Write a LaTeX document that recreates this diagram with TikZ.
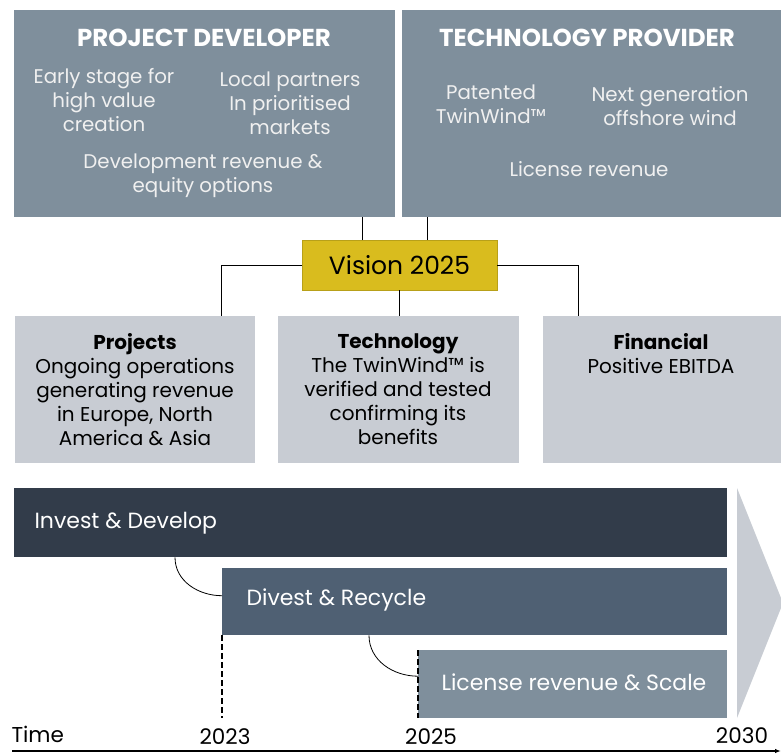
\documentclass[tikz,border=0pt]{standalone}
\usepackage{fontspec}
\setmainfont{Poppins}
\usetikzlibrary{arrows.meta}
\usetikzlibrary{positioning}

\definecolor{slate}{HTML}{7F8F9C}
\definecolor{pale}{HTML}{C8CCD3}
\definecolor{navy}{HTML}{323C4A}
\definecolor{steel}{HTML}{4F6073}
\definecolor{gold}{HTML}{D9BC1E}

\tikzset{
  panel/.style={anchor=north west, inner sep=0pt},
  head/.style={text=white, font=\bfseries\fontsize{24.5}{28}\selectfont},
  body/.style={text=white!94!black, align=center, font=\fontsize{19.8}{24}\selectfont},
  goal/.style={align=center, anchor=north, font=\fontsize{20}{24}\selectfont},
  phase/.style={text=white, anchor=west, font=\fontsize{22}{26}\selectfont},
  year/.style={font=\fontsize{21.5}{26}\selectfont},
  link/.style={thick, black},
  marker/.style={line width=1.6pt, black, dash pattern=on 6pt off 3pt},
}

\begin{document}
\begin{tikzpicture}[x=1pt,y=-1pt]

        \useasboundingbox (0,0) rectangle (781,753);

        % business areas
        \node[panel, fill=slate, minimum width=381pt, minimum height=207pt] (developer) at (14,10) {};
        \node[panel, fill=slate, minimum width=379pt, minimum height=207pt] (provider) at (402,10) {};

        \node[head] (developertitle) at (204,38) {PROJECT DEVELOPER};
        \node[body] (earlystage) at (104,100) {Early stage for\\high value\\creation};
        \node[body] (partners) at (290,103) {Local partners\\In prioritised\\markets};
        \node[body] (devrevenue) at (203,176) {Development revenue \&\\equity options};

        \node[head] (providertitle) at (587,38) {TECHNOLOGY PROVIDER};
        \node[body] (patented) at (491,104) {Patented\\TwinWind™};
        \node[body] (nextgen) at (670,106) {Next generation\\offshore wind};
        \node[body] (licrevenue) at (589,169) {License revenue};

        % vision and its three goals
        \node[panel, fill=gold, draw=gold!85!black, minimum width=195pt, minimum height=50pt] (vision) at (302,240) {};
        \node[font=\fontsize{25}{28}\selectfont] (visiontext) at (399.5,265) {Vision 2025};

        \node[panel, fill=pale, minimum width=240pt, minimum height=147pt] (projects) at (15,316) {};
        \node[panel, fill=pale, minimum width=241pt, minimum height=147pt] (technology) at (278,316) {};
        \node[panel, fill=pale, minimum width=238pt, minimum height=147pt] (financial) at (543,316) {};

        \node[goal] (projectstext) at (135,330) {\textbf{Projects}\\Ongoing operations\\generating revenue\\in Europe, North\\America \& Asia};
        \node[goal] (technologytext) at (398,330) {\textbf{Technology}\\The TwinWind™ is\\verified and tested\\confirming its\\benefits};
        \node[goal] (financialtext) at (661,330) {\textbf{Financial}\\Positive EBITDA};

        \draw[link] ([xshift=-33pt]developer.south east) -- ([xshift=-33pt]developer.south east |- vision.north);
        \draw[link] ([xshift=25pt]provider.south west) -- ([xshift=25pt]provider.south west |- vision.north);
        \draw[link] (vision.west) -| ([xshift=-34pt]projects.north east);
        \draw[link] (vision.south) -- (vision.south |- technology.north);
        \draw[link] (vision.east) -| ([xshift=35pt]financial.north west);

        % phases over time
        \fill[pale] (737,488) -- (783,603) -- (737,718) -- cycle;

        \node[panel, fill=navy, minimum width=713pt, minimum height=69pt] (invest) at (14,488) {};
        \node[panel, fill=steel, minimum width=505pt, minimum height=67pt] (divest) at (222,568) {};
        \node[panel, fill=slate, minimum width=309pt, minimum height=68pt] (license) at (418,650) {};

        \node[phase] (investtext) at (31,523) {Invest \& Develop};
        \node[phase] (divesttext) at (243,600) {Divest \& Recycle};
        \node[phase] (licensetext) at (438,682) {License revenue \& Scale};

        \draw[link] ([xshift=161pt]invest.south west) to[out=-90, in=180] ([yshift=6pt]divest.west);
        \draw[link] ([xshift=147pt]divest.south west) to[out=-90, in=180] ([yshift=8pt]license.west);
        \draw[marker] (divest.south west) -- (divest.south west |- license.south);
        \draw[marker] (license.north west) -- (license.south west);

        % time axis
        \node[year, anchor=west] (time) at (8,734) {Time};
        \node[year] (y2023) at (225,737) {2023};
        \node[year] (y2025) at (431,737) {2025};
        \node[year] (y2030) at (742,736) {2030};
        \coordinate (axisstart) at (12,751);
        \coordinate (axisend) at (781,751);
        \draw[very thick, -{Latex[length=6pt]}] (axisstart) -- (axisend);

      \end{tikzpicture}
\end{document}
